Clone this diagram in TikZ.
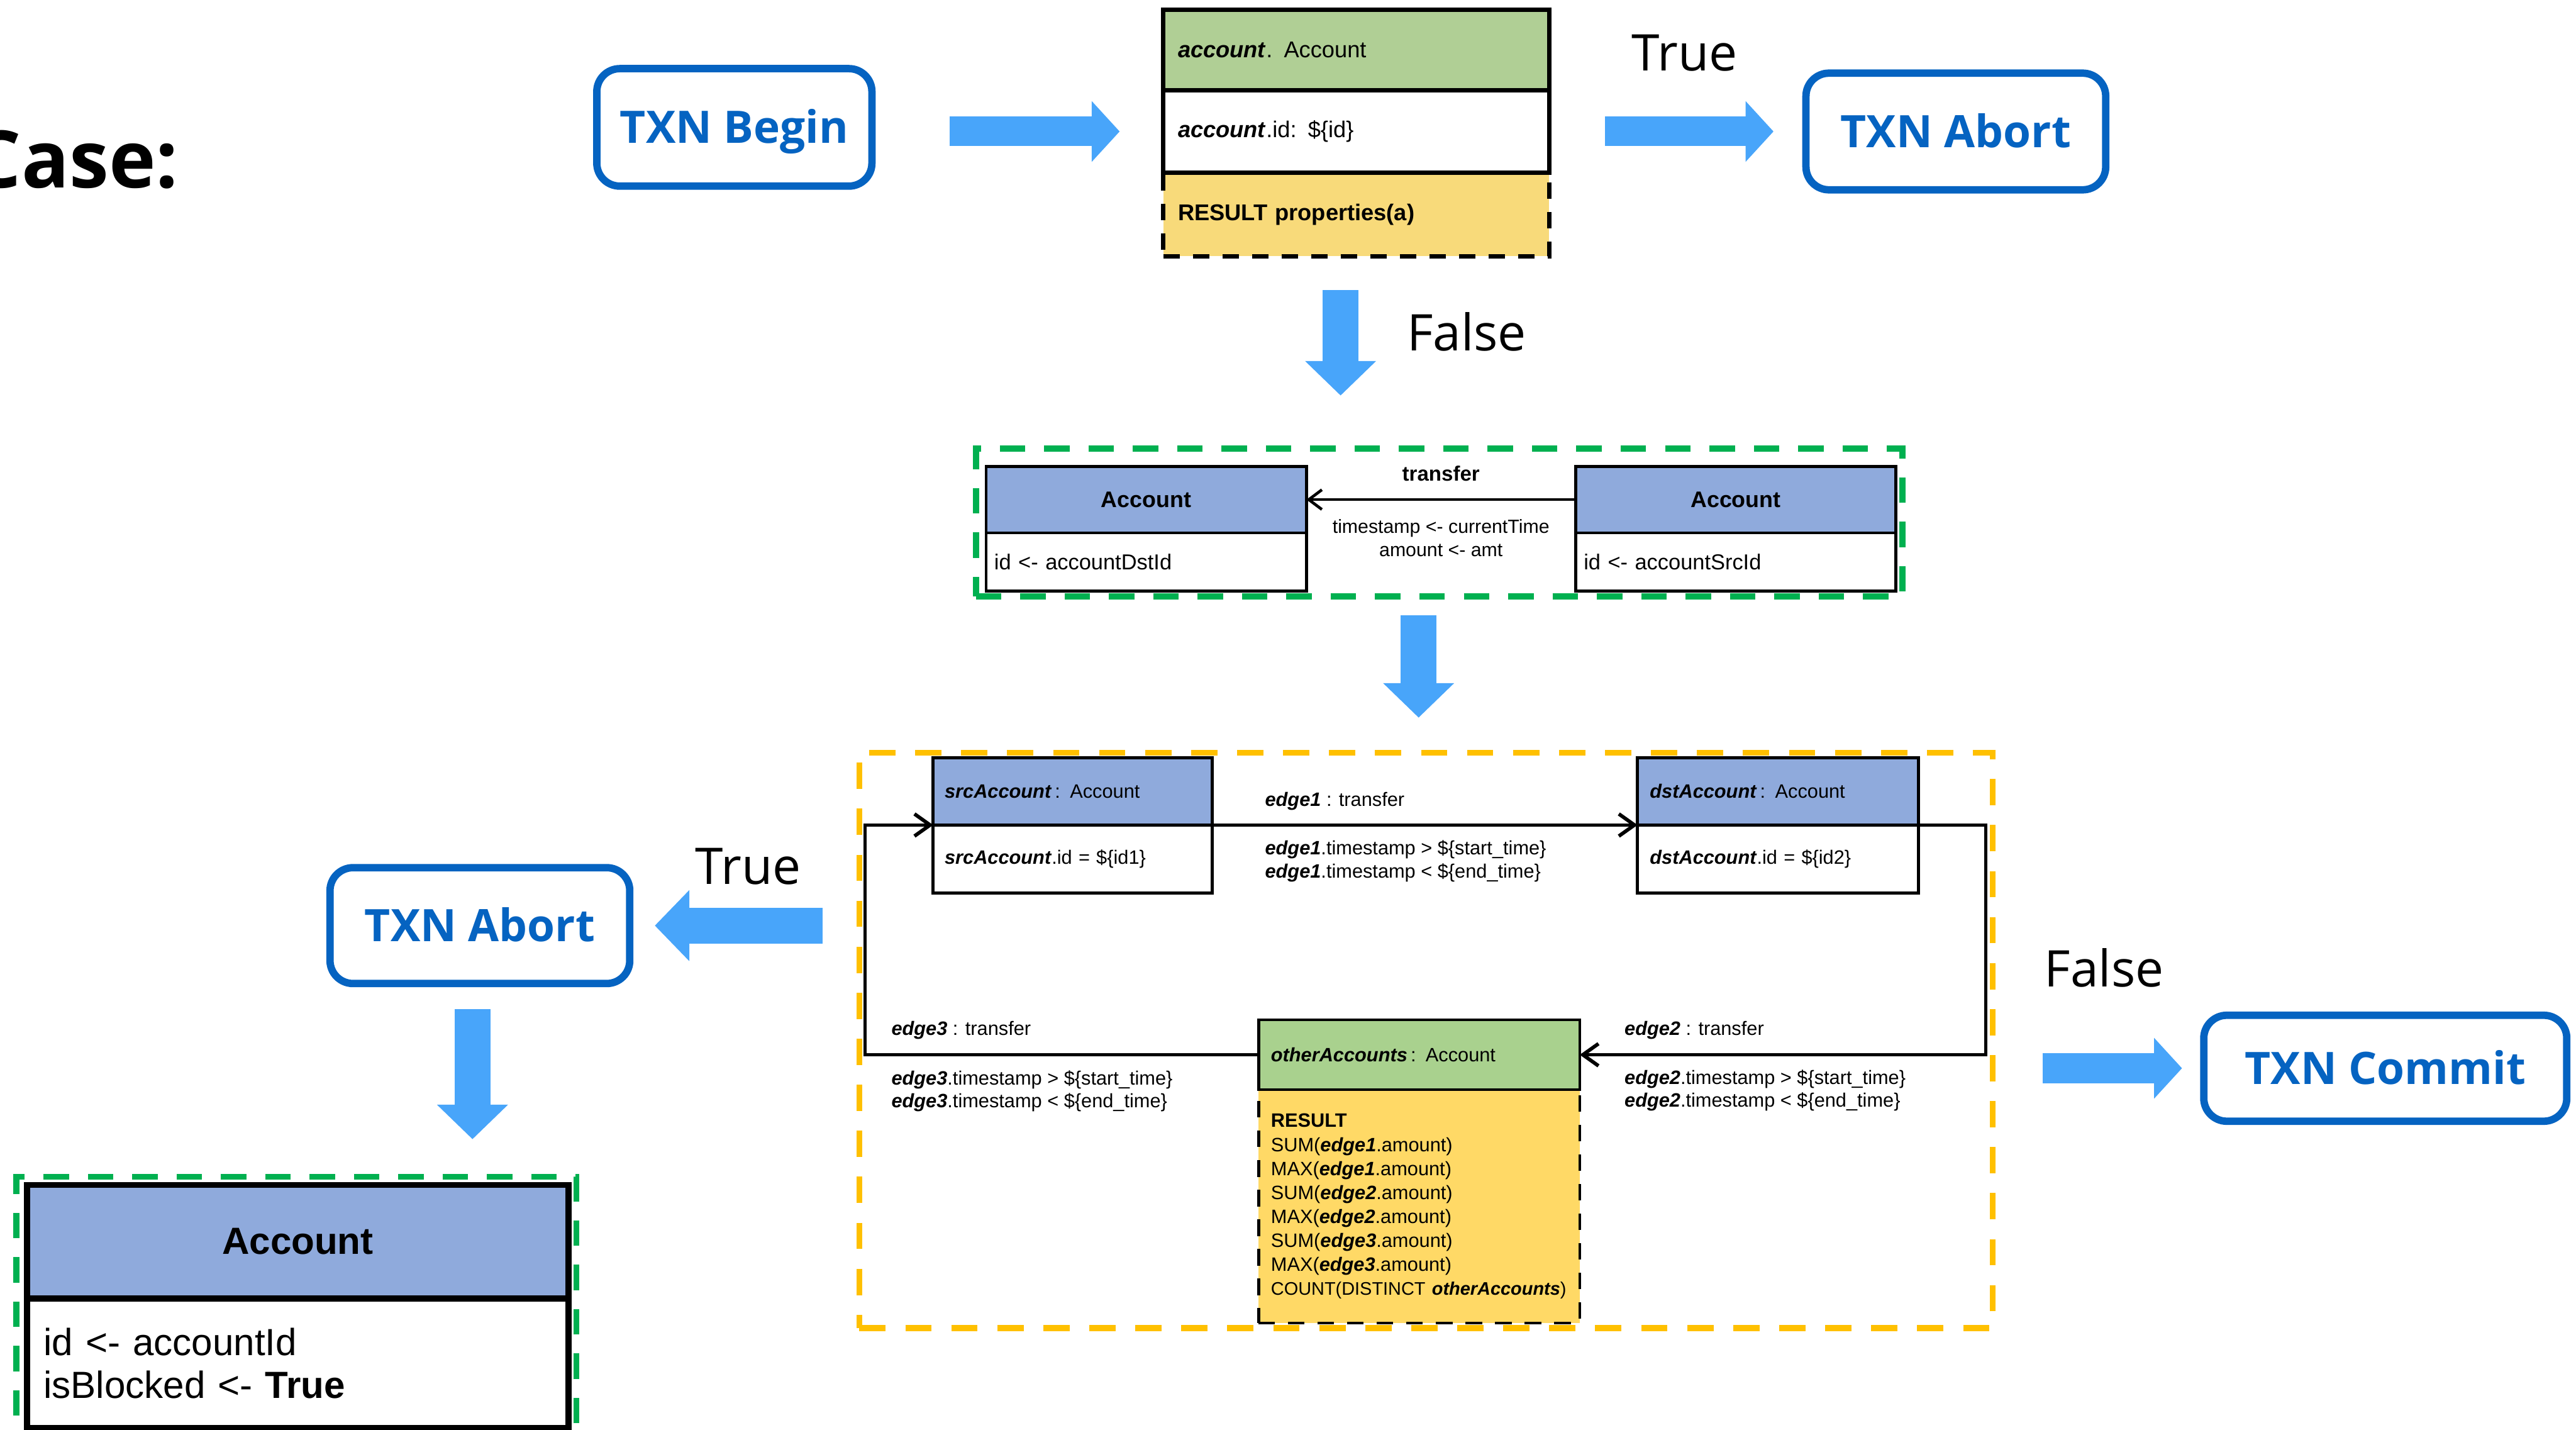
\documentclass[tikz,border=0pt]{standalone}
\usepackage{fontspec}
\setmainfont{Liberation Sans}
\newfontfamily\osfont{Open Sans}
\usetikzlibrary{positioning,arrows.meta}
\definecolor{txnblue}{HTML}{0563C1}
\definecolor{flowblue}{HTML}{48A5FA}
\definecolor{headblue}{HTML}{8FAADC}
\definecolor{headgreen}{HTML}{B0CF95}
\definecolor{othergreen}{HTML}{A9D18E}
\definecolor{resyellow}{HTML}{F8DA7A}
\definecolor{otheryellow}{HTML}{FFD966}
\definecolor{framegreen}{HTML}{00B050}
\definecolor{frameyellow}{HTML}{FFC000}
\newcommand{\vname}[1]{\textbf{\textit{#1}}}

\begin{document}
\begin{tikzpicture}[x=0.02cm,y=-0.02cm,
  txn/.style={draw=txnblue,line width=0.09cm,rounded corners=0.28cm,text=txnblue,
    font=\osfont\bfseries\fontsize{15.5}{18}\selectfont,text height=11pt,text depth=0pt},
  flow/.style={draw=flowblue,line width=0.36cm,-{Triangle[length=0.34cm,width=0.72cm]}},
  flowbig/.style={draw=flowblue,line width=0.44cm,-{Triangle[length=0.42cm,width=0.84cm]}},
  tf/.style={font=\osfont\fontsize{17.5}{21}\selectfont,inner sep=0pt,anchor=base west},
  gframe/.style={draw=framegreen,line width=0.074cm,dash pattern=on 0.31cm off 0.23cm},
  yframe/.style={draw=frameyellow,line width=0.075cm,dash pattern=on 0.32cm off 0.24cm},
  res/.style={fill=resyellow,dash pattern=on 0.2cm off 0.16cm},
  acct/.style={draw,line width=0.05cm,outer sep=0pt,text width=4.34cm,inner xsep=0.18cm,
    align=left,font=\fontsize{7.9}{9.5}\selectfont},
  mid/.style={draw,line width=0.037cm,outer sep=0pt,text width=3.7cm,inner xsep=0.1cm},
  midhead/.style={mid,fill=headblue,minimum height=0.81cm,align=center,
    font=\bfseries\fontsize{7.8}{9.4}\selectfont},
  midbody/.style={mid,minimum height=0.71cm,align=left,font=\fontsize{7.5}{9}\selectfont},
  q/.style={draw,line width=0.037cm,outer sep=0pt,inner xsep=0.14cm,text width=3.12cm,
    align=left,font=\fontsize{6.7}{8.3}\selectfont},
  qhead/.style={q,fill=headblue,minimum height=0.82cm},
  qbody/.style={q,minimum height=0.83cm},
  elab/.style={inner sep=0pt,anchor=west,align=left,font=\fontsize{6.7}{8}\selectfont},
  rel/.style={line width=0.044cm,-{Straight Barb[length=0.19cm,width=0.27cm]}},
  blk/.style={draw,line width=0.075cm,outer sep=0pt,text width=6.19cm,inner xsep=0.2cm,
    font=\fontsize{13.1}{14.8}\selectfont}]
\useasboundingbox (0,0) rectangle (1568,870);

\node[font=\osfont\bfseries\fontsize{27.5}{33}\selectfont,inner sep=0pt,anchor=base east] (caseLbl) at (109,114.3) {Case:};

% transaction states
\node[txn,minimum width=3.35cm,minimum height=1.43cm] (begin) at (447,77.5) {TXN Begin};
\node[txn,minimum width=3.65cm,minimum height=1.42cm] (abortTop) at (1190.5,80) {TXN Abort};
\node[txn,minimum width=3.65cm,minimum height=1.41cm] (abortLeft) at (292.1,563.2) {TXN Abort};
\node[txn,minimum width=4.42cm,minimum height=1.29cm] (commit) at (1451.9,650) {TXN Commit};

\node[tf] (trueTop) at (993,43) {True};
\node[tf] (falseTop) at (856,213.5) {False};
\node[tf] (trueLeft) at (423,538) {True};
\node[tf] (falseRight) at (1244,600.4) {False};

% check account
\node[acct,fill=headgreen,minimum height=0.98cm] (acctHead) at (825.5,30.5) {\vname{account}. Account};
\node[acct,minimum height=1cm,below=0pt of acctHead] (acctBody) {\vname{account}.id: \$\{id\}};
\node[acct,res,minimum height=1.02cm,below=0pt of acctBody] (acctRes) {\textbf{RESULT properties(a)}};
\draw[line width=0.05cm] (acctRes.north west) -- (acctRes.north east);

% transfer
\node[gframe,minimum width=11.28cm,minimum height=1.8cm] (xfer) at (876,318) {};
\node[midhead] (midDstHead) at (697.7,304) {Account};
\node[midbody,below=0pt of midDstHead] (midDstBody) {id <- accountDstId};
\node[midhead] (midSrcHead) at (1056.5,304) {Account};
\node[midbody,below=0pt of midSrcHead] (midSrcBody) {id <- accountSrcId};
\draw[line width=0.035cm,-{Straight Barb[length=0.16cm,width=0.24cm]}] (midSrcHead.west) -- (midDstHead.east)
  node[midway,yshift=0.32cm,font=\bfseries\fontsize{7.2}{8.6}\selectfont] (xferName) {transfer}
  node[midway,yshift=-0.47cm,align=center,font=\fontsize{6.6}{8}\selectfont] (xferProps) {timestamp <- currentTime\\amount <- amt};

% cycle match
\node[yframe,minimum width=13.8cm,minimum height=7cm] (match) at (868,633) {};
\node[qhead] (srcAccHead) at (653,481.5) {\vname{srcAccount}\,: Account};
\node[qbody,below=0pt of srcAccHead] (srcAccBody) {\vname{srcAccount}.id = \$\{id1\}};
\node[qhead,inner xsep=0.15cm] (dstAccHead) at (1082.25,481.5) {\vname{dstAccount}\,: Account};
\node[qbody,inner xsep=0.15cm,below=0pt of dstAccHead] (dstAccBody) {\vname{dstAccount}.id = \$\{id2\}};
\node[qhead,fill=othergreen,text width=3.61cm,inner xsep=0.15cm,minimum height=0.85cm] (otherHead) at (863.85,641.8) {\vname{otherAccounts}\,: Account};
\node[q,res,fill=otheryellow,text width=3.61cm,inner xsep=0.15cm,minimum height=2.84cm,below=0pt of otherHead] (otherRes)
  {\textbf{RESULT}\\SUM(\vname{edge1}.amount)\\MAX(\vname{edge1}.amount)\\SUM(\vname{edge2}.amount)\\MAX(\vname{edge2}.amount)\\SUM(\vname{edge3}.amount)\\MAX(\vname{edge3}.amount)\\\mbox{\fontsize{6.3}{8.3}\selectfont COUNT(DISTINCT \vname{otherAccounts})}};
\draw[line width=0.037cm] (otherRes.north west) -- (otherRes.north east);

\draw[rel] (srcAccHead.south east) -- (dstAccHead.south west);
\draw[rel] (dstAccHead.south east) -- ++(0.82cm,0) |- (otherHead.east);
\draw[rel] (otherHead.west) -| ([xshift=-0.83cm]srcAccHead.south west) -- (srcAccHead.south west);

\node[elab] (e1Name) at (769.7,487.4) {\vname{edge1} : transfer};
\node[elab] (e1Cond) at (769.7,524) {\vname{edge1}.timestamp > \$\{start\_time\}\\\vname{edge1}.timestamp < \$\{end\_time\}};
\node[elab] (e2Name) at (988.5,626.8) {\vname{edge2} : transfer};
\node[elab] (e2Cond) at (988.5,663.5) {\vname{edge2}.timestamp > \$\{start\_time\}\\\vname{edge2}.timestamp < \$\{end\_time\}};
\node[elab] (e3Name) at (542.3,626.7) {\vname{edge3} : transfer};
\node[elab] (e3Cond) at (542.3,663.9) {\vname{edge3}.timestamp > \$\{start\_time\}\\\vname{edge3}.timestamp < \$\{end\_time\}};

% block account
\node[gframe,minimum width=6.82cm,minimum height=3.2cm] (blockFrame) at (180.4,796) {};
\node[blk,fill=headblue,minimum height=1.38cm,align=center,font=\bfseries\fontsize{13.1}{15.7}\selectfont] (blockHead) at (181.25,755.5) {Account};
\node[blk,minimum height=1.58cm,align=left,below=0pt of blockHead] (blockBody) {id <- accountId\\isBlocked <- \textbf{True}};

% flow arrows
\coordinate (downA) at ([xshift=-0.19cm]acctRes.south);
\coordinate (downB) at ([xshift=-0.25cm]xfer.south);
\coordinate (downC) at ([xshift=-0.09cm]abortLeft.south);
\draw[flow,shorten <=0.9cm,shorten >=0.53cm] (begin.east |- acctBody.west) -- (acctBody.west);
\draw[flow,shorten <=0.68cm,shorten >=0.35cm] (acctBody.east) -- (acctBody.east -| abortTop.west);
\draw[flowbig,shorten <=0.41cm,shorten >=0.61cm] (downA) -- (downA |- xfer.north);
\draw[flowbig,shorten <=0.19cm,shorten >=0.39cm] (downB) -- (downB |- match.north);
\draw[flowbig,shorten <=0.41cm,shorten >=0.26cm] (match.west |- abortLeft.east) -- (abortLeft.east);
\draw[flowbig,shorten <=0.27cm,shorten >=0.42cm] (downC) -- (downC |- blockFrame.north);
\draw[flow,shorten <=0.57cm,shorten >=0.22cm] (match.east |- commit.west) -- (commit.west);

\end{tikzpicture}
\end{document}
